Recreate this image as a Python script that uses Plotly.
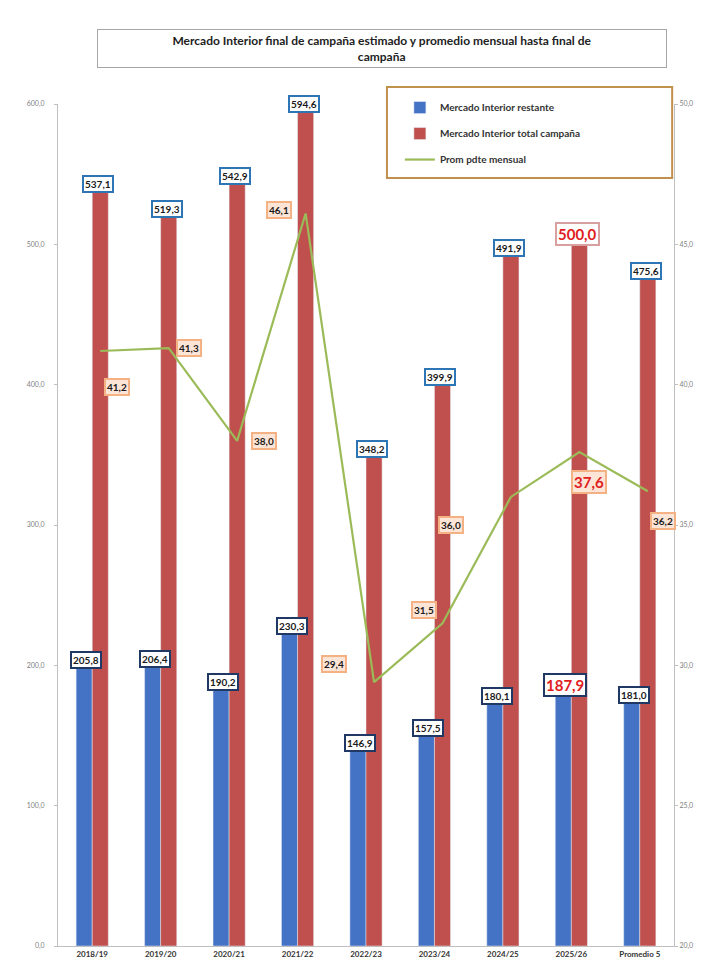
import plotly.graph_objects as go

categories = ["2018/19", "2019/20", "2020/21", "2021/22", "2022/23", "2023/24", "2024/25", "2025/26", "Promedio 5"]
restante = [205.8, 206.4, 190.2, 230.3, 146.9, 157.5, 180.1, 187.9, 181.0]
total = [537.1, 519.3, 542.9, 594.6, 348.2, 399.9, 491.9, 500.0, 475.6]
prom = [41.2, 41.3, 38.0, 46.1, 29.4, 31.5, 36.0, 37.6, 36.2]
left_ticks = [0, 100, 200, 300, 400, 500, 600]
right_ticks = [20, 25, 30, 35, 40, 45, 50]

# label offsets for the line labels (pixels)
prom_ax = [17, 20, 27, -27, -40, -18, -60, 10, 15]
prom_ay = [36, 0, 0, -3, -18, -13, 28, 30, 30]
highlight = "2025/26"

BLUE = "#4472C4"
RED = "#C0504D"
GREEN = "#9BBB59"
FONT = "Lato"

fig = go.Figure()
fig.add_trace(go.Bar(x=categories, y=restante, name="Mercado Interior restante",
                     marker_color=BLUE, legendgroup="a"))
fig.add_trace(go.Bar(x=categories, y=total, name="Mercado Interior total campaña",
                     marker_color=RED, legendgroup="b"))
fig.add_trace(go.Scatter(x=categories, y=prom, name="Prom pdte mensual", mode="lines",
                         line=dict(color=GREEN, width=2.2), xaxis="x2", yaxis="y2",
                         legendgroup="c"))

ann = []
for c, v in zip(categories, restante):
    hl = c == highlight
    ann.append(dict(x=c, y=v, xref="x", yref="y", text=f"{v:.1f}".replace(".", ","),
                    showarrow=False, xshift=-6, yshift=-3,
                    font=dict(family=FONT, size=15 if hl else 10,
                              color="#E02020" if hl else "#1a1a1a", weight="bold"),
                    bgcolor="white", bordercolor="#1F3864", borderwidth=2, borderpad=1))
for c, v in zip(categories, total):
    hl = c == highlight
    ann.append(dict(x=c, y=v, xref="x", yref="y", text=f"{v:.1f}".replace(".", ","),
                    showarrow=False, xshift=6, yshift=10 if hl else 8,
                    font=dict(family=FONT, size=15 if hl else 10,
                              color="#E02020" if hl else "#1a1a1a", weight="bold"),
                    bgcolor="white", bordercolor="#D9A0A0" if hl else "#2E75B6",
                    borderwidth=2, borderpad=1))
for c, v, ax, ay in zip(categories, prom, prom_ax, prom_ay):
    hl = c == highlight
    ann.append(dict(x=c, y=v, xref="x2", yref="y2", text=f"{v:.1f}".replace(".", ","),
                    showarrow=True, arrowcolor="rgba(0,0,0,0)", ax=ax, ay=ay,
                    font=dict(family=FONT, size=15 if hl else 10,
                              color="#E02020" if hl else "#1a1a1a", weight="bold"),
                    bgcolor="#FCE4D6", bordercolor="#F4B183", borderwidth=2, borderpad=1))

# title box
ann.append(dict(xref="paper", yref="paper", x=0.526, y=1.066, xanchor="center", yanchor="middle",
                text="Mercado Interior final de campaña estimado y promedio mensual hasta final de<br>campaña",
                showarrow=False, font=dict(family=FONT, size=12, color="#222222", weight="bold"),
                bordercolor="#A6A6A6", borderwidth=1, borderpad=3, bgcolor="white", width=562))

fig.update_layout(
    width=715, height=971,
    margin=dict(l=50, r=49, t=96, b=33),
    paper_bgcolor="white", plot_bgcolor="white",
    barmode="group", bargap=0.53, bargroupgap=0,
    separators=", ",
    font=dict(family=FONT),
    annotations=ann,
    xaxis=dict(type="category", range=[-0.5, 8.5], showline=True, linecolor="#BFBFBF",
               tickfont=dict(family=FONT, size=8, color="#333333", weight="bold"), ticks=""),
    xaxis2=dict(type="category", overlaying="x", range=[-0.5 - 0.1175, 8.5 - 0.1175],
                visible=False, categoryarray=categories, categoryorder="array"),
    yaxis=dict(range=[0, 600], tickvals=left_ticks, tickformat=".1f", showgrid=False,
               showline=True, linecolor="#BFBFBF", ticks="outside", ticklen=3, tickcolor="#BFBFBF",
               ticklabelstandoff=8,
               tickfont=dict(family=FONT, size=7, color="#7F7F7F"), zeroline=False),
    yaxis2=dict(range=[20, 50], tickvals=right_ticks, tickformat=".1f", overlaying="y",
                side="right", anchor="x", showgrid=False, showline=True, linecolor="#BFBFBF",
                ticks="outside", ticklen=3, tickcolor="#BFBFBF",
                tickfont=dict(family=FONT, size=7, color="#7F7F7F"), zeroline=False),
    legend=dict(x=0.555, y=1.013, xanchor="left", yanchor="top", bgcolor="rgba(0,0,0,0)",
                borderwidth=0, tracegroupgap=7,
                font=dict(family=FONT, size=10, color="#333333", weight="bold")),
    shapes=[dict(type="rect", xref="paper", yref="paper", x0=0.534, x1=0.997,
                 y0=(938 - 170) / 842, y1=(938 - 79) / 842,
                 line=dict(color="#C0904D", width=2), fillcolor="rgba(0,0,0,0)")],
)

fig.write_html("out.html")
